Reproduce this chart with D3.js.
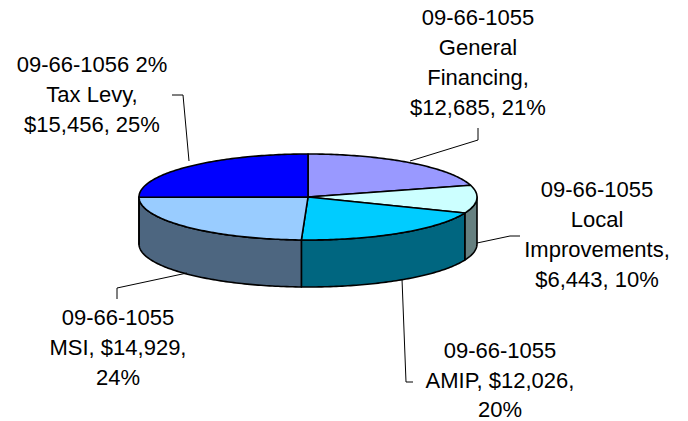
<!DOCTYPE html>
<html>
<head>
<meta charset="utf-8">
<script src="https://cdn.jsdelivr.net/npm/d3@7"></script>
<style>
  body { margin: 0; background: #fff; }
  svg { display: block; }
</style>
</head>
<body>
<div id="chart"></div>
<script>
// slice data, clockwise from 12 o'clock
const categories = ["General Financing", "Local Improvements", "AMIP", "MSI", "Tax Levy"];
const accounts = ["09-66-1055", "09-66-1055", "09-66-1055", "09-66-1055", "09-66-1056 2%"];
const values = [12685, 6443, 12026, 14929, 15456];
const percentLabels = ["21%", "10%", "20%", "24%", "25%"];
const valueLabels = ["$12,685", "$6,443", "$12,026", "$14,929", "$15,456"];

// label text wrapped the way the chart has it
const labelLines = [
    ["09-66-1055", "General", "Financing,", "$12,685, 21%"],
    ["09-66-1055", "Local", "Improvements,", "$6,443, 10%"],
    ["09-66-1055", "AMIP, $12,026,", "20%"],
    ["09-66-1055", "MSI, $14,929,", "24%"],
    ["09-66-1056 2%", "Tax Levy,", "$15,456, 25%"]
];

const topColors = ["#9999ff", "#ccffff", "#00ccff", "#99ccff", "#0000ff"];

const W = 688, H = 421;
const cx = 308, cy = 197, rx = 169, ry = 43, depth = 47;

// label layout: center x, first baseline, line step
const labelPos = [
    {x: 478, y: 25, dy: 30},
    {x: 597, y: 197, dy: 30},
    {x: 500, y: 358, dy: 29.5},
    {x: 118, y: 325, dy: 30},
    {x: 92, y: 72, dy: 30}
];
// leader lines
const leaders = [
    [[410, 161], [478, 140], [478, 128]],
    [[477, 243], [510, 236], [520, 236]],
    [[402, 279], [406, 382], [413, 382]],
    [[187, 273], [117, 288], [117, 299]],
    [[189, 161], [183, 95], [172, 95]]
];

const svg = d3.select("#chart").append("svg")
    .attr("width", W)
    .attr("height", H);

const pie = d3.pie().sort(null).value(d => d);
const arcs = pie(values);

const color = d3.scaleOrdinal().domain(categories).range(topColors);
const sideColor = c => {
    const r = d3.rgb(c);
    return d3.rgb(Math.round(r.r * 0.5), Math.round(r.g * 0.5), Math.round(r.b * 0.5)).formatHex();
};

// point on the top ellipse for angle a (0 = top, clockwise)
const pt = (a, dz = 0) => [cx + rx * Math.sin(a), cy - ry * Math.cos(a) + dz];

function arcPoints(a0, a1, dz) {
    const n = Math.max(2, Math.ceil((a1 - a0) / (Math.PI / 180)));
    const pts = [];
    for (let i = 0; i <= n; i++) {
        pts.push(pt(a0 + (a1 - a0) * i / n, dz));
    }
    return pts;
}

const line = d3.line();

// side walls (front half only)
const walls = svg.append("g");
arcs.forEach((d, i) => {
    const a0 = Math.max(d.startAngle, Math.PI / 2);
    const a1 = Math.min(d.endAngle, Math.PI * 1.5);
    if (a1 <= a0) return;
    const top = arcPoints(a0, a1, 0);
    const bottom = arcPoints(a0, a1, depth).reverse();
    walls.append("path")
        .attr("d", line(top.concat(bottom)) + "Z")
        .attr("fill", sideColor(color(categories[i])))
        .attr("stroke", "#000")
        .attr("stroke-width", 1.6)
        .attr("stroke-linejoin", "round");
});

// top faces
const tops = svg.append("g");
arcs.forEach((d, i) => {
    const pts = [[cx, cy]].concat(arcPoints(d.startAngle, d.endAngle, 0));
    tops.append("path")
        .attr("d", line(pts) + "Z")
        .attr("fill", color(categories[i]))
        .attr("stroke", "#000")
        .attr("stroke-width", 1.6)
        .attr("stroke-linejoin", "round");
});

// leader lines
svg.append("g")
    .selectAll("path")
    .data(leaders)
    .enter()
    .append("path")
    .attr("d", d => line(d))
    .attr("fill", "none")
    .attr("stroke", "#000")
    .attr("stroke-width", 1);

// labels
const labels = svg.append("g")
    .style("font-family", "'Liberation Sans', Arial, sans-serif")
    .style("font-size", "22px")
    .attr("fill", "#000");

labelLines.forEach((lines, i) => {
    const p = labelPos[i];
    const t = labels.append("text")
        .attr("text-anchor", "middle");
    lines.forEach((s, j) => {
        t.append("tspan")
            .attr("x", p.x)
            .attr("y", p.y + j * p.dy)
            .text(s);
    });
});
</script>
</body>
</html>
